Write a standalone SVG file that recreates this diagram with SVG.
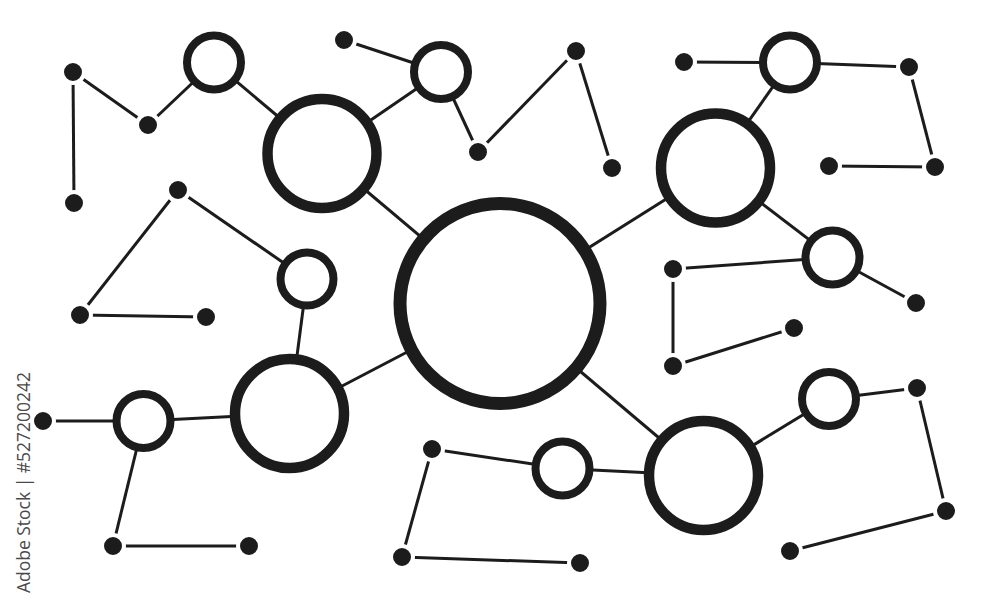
<svg xmlns="http://www.w3.org/2000/svg" width="1000" height="609" viewBox="0 0 1000 609">
<style>
.ln{stroke:#1c1c1c;stroke-width:3;stroke-linecap:butt}
.ring{fill:#fff;stroke:#1c1c1c}
.big{stroke-width:13}
.med{stroke-width:10.5}
.sm{stroke-width:8}
.dot{fill:#1c1c1c;stroke:#fff;stroke-width:4}
.wm{font-family:"Open Sans","Liberation Sans",sans-serif;font-size:18px;fill:#4a4a4a}
</style>
<rect width="1000" height="609" fill="#fff"/>
<g id="connectors">
<line class="ln" x1="73" y1="72" x2="74" y2="203"/>
<line class="ln" x1="73" y1="72" x2="148" y2="125"/>
<line class="ln" x1="148" y1="125" x2="214" y2="62.5"/>
<line class="ln" x1="214" y1="62.5" x2="322" y2="153.5"/>
<line class="ln" x1="322" y1="153.5" x2="500" y2="303.5"/>
<line class="ln" x1="441" y1="72" x2="322" y2="153.5"/>
<line class="ln" x1="344" y1="40" x2="441" y2="72"/>
<line class="ln" x1="441" y1="72" x2="478" y2="152"/>
<line class="ln" x1="478" y1="152" x2="576" y2="51"/>
<line class="ln" x1="576" y1="51" x2="612" y2="168"/>
<line class="ln" x1="178" y1="190" x2="80" y2="315"/>
<line class="ln" x1="178" y1="190" x2="307" y2="279"/>
<line class="ln" x1="80" y1="315" x2="206" y2="317"/>
<line class="ln" x1="307" y1="279" x2="289.5" y2="413.5"/>
<line class="ln" x1="289.5" y1="413.5" x2="500" y2="303.5"/>
<line class="ln" x1="43" y1="421" x2="143.5" y2="421"/>
<line class="ln" x1="143.5" y1="421" x2="289.5" y2="413.5"/>
<line class="ln" x1="143.5" y1="421" x2="113" y2="546"/>
<line class="ln" x1="113" y1="546" x2="249" y2="546"/>
<line class="ln" x1="500" y1="303.5" x2="715.5" y2="168"/>
<line class="ln" x1="715.5" y1="168" x2="790" y2="62.5"/>
<line class="ln" x1="684" y1="62" x2="790" y2="62.5"/>
<line class="ln" x1="790" y1="62.5" x2="909" y2="67"/>
<line class="ln" x1="909" y1="67" x2="935" y2="167"/>
<line class="ln" x1="829" y1="166" x2="935" y2="167"/>
<line class="ln" x1="715.5" y1="168" x2="832.5" y2="257.5"/>
<line class="ln" x1="832.5" y1="257.5" x2="916" y2="303"/>
<line class="ln" x1="832.5" y1="257.5" x2="673" y2="269"/>
<line class="ln" x1="673" y1="269" x2="673" y2="366"/>
<line class="ln" x1="673" y1="366" x2="794" y2="328"/>
<line class="ln" x1="500" y1="303.5" x2="703.5" y2="475.5"/>
<line class="ln" x1="562.5" y1="468.5" x2="703.5" y2="475.5"/>
<line class="ln" x1="432" y1="449" x2="562.5" y2="468.5"/>
<line class="ln" x1="432" y1="449" x2="402" y2="557"/>
<line class="ln" x1="402" y1="557" x2="580" y2="563"/>
<line class="ln" x1="703.5" y1="475.5" x2="829" y2="399"/>
<line class="ln" x1="829" y1="399" x2="917" y2="388"/>
<line class="ln" x1="917" y1="388" x2="946" y2="511"/>
<line class="ln" x1="946" y1="511" x2="790" y2="551"/>
</g>
<g id="hub"><circle class="ring big" cx="500" cy="303.5" r="100"/></g>
<g id="node-upper-left"><circle class="ring med" cx="322" cy="153.5" r="54.5"/></g>
<g id="node-upper-right"><circle class="ring med" cx="715.5" cy="168" r="54.5"/></g>
<g id="node-lower-left"><circle class="ring med" cx="289.5" cy="413.5" r="54.5"/></g>
<g id="node-lower-right"><circle class="ring med" cx="703.5" cy="475.5" r="54.5"/></g>
<g id="small-1"><circle class="ring sm" cx="214" cy="62.5" r="27"/></g>
<g id="small-2"><circle class="ring sm" cx="441" cy="72" r="27"/></g>
<g id="small-3"><circle class="ring sm" cx="307" cy="279" r="26.5"/></g>
<g id="small-4"><circle class="ring sm" cx="143.5" cy="421" r="27"/></g>
<g id="small-5"><circle class="ring sm" cx="790" cy="62.5" r="27"/></g>
<g id="small-6"><circle class="ring sm" cx="832.5" cy="257.5" r="27"/></g>
<g id="small-7"><circle class="ring sm" cx="562.5" cy="468.5" r="27"/></g>
<g id="small-8"><circle class="ring sm" cx="829" cy="399" r="27"/></g>
<g id="dots">
<circle class="dot" cx="73" cy="72" r="11"/>
<circle class="dot" cx="148" cy="125" r="11"/>
<circle class="dot" cx="74" cy="203" r="11"/>
<circle class="dot" cx="344" cy="40" r="11"/>
<circle class="dot" cx="478" cy="152" r="11"/>
<circle class="dot" cx="576" cy="51" r="11"/>
<circle class="dot" cx="612" cy="168" r="11"/>
<circle class="dot" cx="178" cy="190" r="11"/>
<circle class="dot" cx="80" cy="315" r="11"/>
<circle class="dot" cx="206" cy="317" r="11"/>
<circle class="dot" cx="43" cy="421" r="11"/>
<circle class="dot" cx="113" cy="546" r="11"/>
<circle class="dot" cx="249" cy="546" r="11"/>
<circle class="dot" cx="684" cy="62" r="11"/>
<circle class="dot" cx="909" cy="67" r="11"/>
<circle class="dot" cx="935" cy="167" r="11"/>
<circle class="dot" cx="829" cy="166" r="11"/>
<circle class="dot" cx="916" cy="303" r="11"/>
<circle class="dot" cx="673" cy="269" r="11"/>
<circle class="dot" cx="673" cy="366" r="11"/>
<circle class="dot" cx="794" cy="328" r="11"/>
<circle class="dot" cx="432" cy="449" r="11"/>
<circle class="dot" cx="402" cy="557" r="11"/>
<circle class="dot" cx="580" cy="563" r="11"/>
<circle class="dot" cx="917" cy="388" r="11"/>
<circle class="dot" cx="946" cy="511" r="11"/>
<circle class="dot" cx="790" cy="551" r="11"/>
</g>
<text class="wm" transform="translate(30,593) rotate(-90)" textLength="221" lengthAdjust="spacingAndGlyphs">Adobe Stock | #527200242</text>
</svg>
